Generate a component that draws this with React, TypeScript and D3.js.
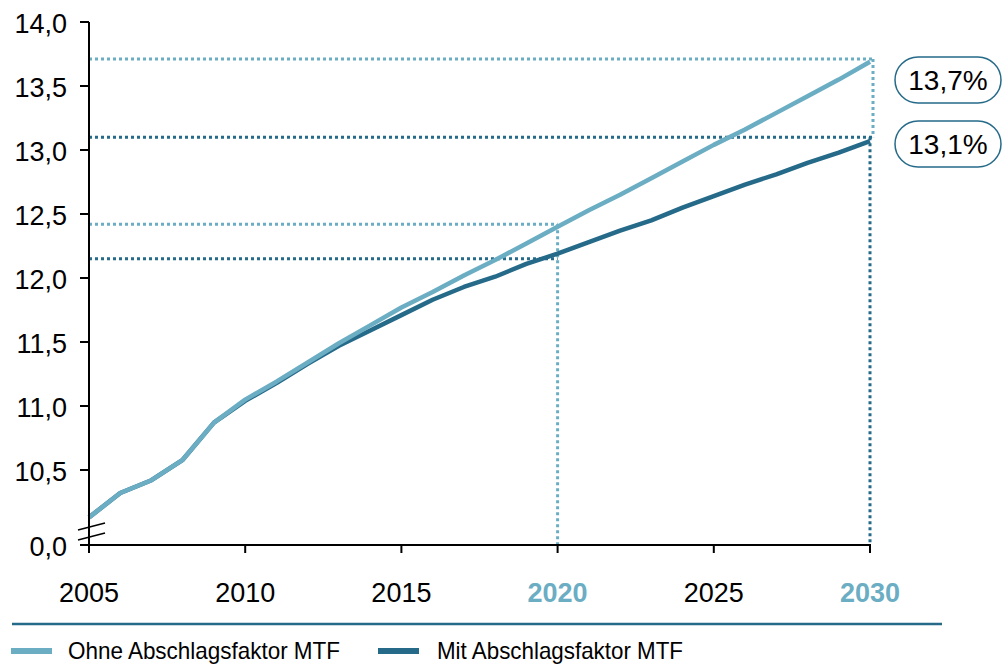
import React from 'react';
import * as d3 from 'd3';

const years = d3.range(2005, 2031);
const ohne = [10.13, 10.32, 10.42, 10.58, 10.87, 11.05, 11.19, 11.34, 11.49, 11.63, 11.77, 11.89, 12.02, 12.14, 12.27, 12.4, 12.53, 12.65, 12.78, 12.91, 13.04, 13.16, 13.29, 13.42, 13.55, 13.69];
const mit = [10.13, 10.32, 10.42, 10.58, 10.87, 11.04, 11.18, 11.33, 11.47, 11.59, 11.71, 11.83, 11.93, 12.01, 12.11, 12.19, 12.28, 12.37, 12.45, 12.55, 12.64, 12.73, 12.81, 12.9, 12.98, 13.07];
const yTicks = [10.5, 11, 11.5, 12, 12.5, 13, 13.5, 14];
const xTicks = [2005, 2010, 2015, 2020, 2025, 2030];
const highlightYears = [2020, 2030];
const refOhne = [12.42, 13.71];
const refMit = [12.15, 13.1];
const badges = ['13,7%', '13,1%'];
const legendLabels = ['Ohne Abschlagsfaktor MTF', 'Mit Abschlagsfaktor MTF'];

const LIGHT = '#6badc3';
const DARK = '#256a89';
const FONT = 'Liberation Sans, Arial, sans-serif';

export default function App() {
  const width = 1003;
  const height = 664;
  const x = d3.scaleLinear().domain([2005, 2030]).range([89, 870]);
  const y = d3.scaleLinear().domain([10, 14]).range([534, 22]);
  const baseY = 545;
  const fmt = (v: number) => d3.format('.1f')(v).replace('.', ',');

  const line = d3
    .line<number>()
    .x((_, i) => x(years[i]))
    .y((d) => y(d));

  const badgeY = [80, 144];
  const legendX = [11, 378];
  const legendW = [272, 246];

  return (
    <svg width={width} height={height} style={{ position: 'absolute', left: 0, top: 0 }}>
      <rect width={width} height={height} fill='#fff' />

      {/* reference dotted lines */}
      <g fill='none' strokeWidth={3} strokeDasharray='3 3'>
        <line x1={x(2005)} x2={x(2020)} y1={y(refOhne[0])} y2={y(refOhne[0])} stroke={LIGHT} />
        <line x1={x(2005)} x2={x(2020)} y1={y(refMit[0])} y2={y(refMit[0])} stroke={DARK} />
        <line x1={x(2020)} x2={x(2020)} y1={y(refOhne[0])} y2={baseY} stroke={LIGHT} />
        <line x1={x(2005)} x2={x(2030) + 4} y1={y(refOhne[1])} y2={y(refOhne[1])} stroke={LIGHT} />
        <line x1={x(2005)} x2={x(2030) + 4} y1={y(refMit[1])} y2={y(refMit[1])} stroke={DARK} />
        <line x1={x(2030) + 3} x2={x(2030) + 3} y1={y(refOhne[1])} y2={y(refMit[1])} stroke={LIGHT} />
        <line x1={x(2030)} x2={x(2030)} y1={y(refMit[1])} y2={baseY} stroke={DARK} />
      </g>

      {/* series */}
      <path d={line(mit) ?? ''} fill='none' stroke={DARK} strokeWidth={4.5} strokeLinejoin='round' />
      <path d={line(ohne) ?? ''} fill='none' stroke={LIGHT} strokeWidth={4.5} strokeLinejoin='round' />

      {/* y axis */}
      <g fontFamily={FONT} fontSize={27} fill='#000'>
        <line x1={89} x2={89} y1={y(14)} y2={baseY + 8} stroke='#000' strokeWidth={2} />
        {yTicks.map((t) => (
          <g key={t}>
            <line x1={80} x2={89} y1={y(t)} y2={y(t)} stroke='#000' strokeWidth={2} />
            <text x={67} y={y(t)} dy='0.4em' textAnchor='end'>
              {fmt(t)}
            </text>
          </g>
        ))}
        <line x1={80} x2={89} y1={baseY} y2={baseY} stroke='#000' strokeWidth={2} />
        <text x={67} y={baseY} dy='0.4em' textAnchor='end'>
          {fmt(0)}
        </text>
        {/* axis break */}
        <line x1={78} x2={105} y1={530} y2={523} stroke='#000' strokeWidth={1.5} />
        <line x1={78} x2={105} y1={540} y2={533} stroke='#000' strokeWidth={1.5} />
      </g>

      {/* x axis */}
      <g fontFamily={FONT} fontSize={27}>
        <line x1={89} x2={x(2030) + 1} y1={baseY} y2={baseY} stroke='#000' strokeWidth={2} />
        {xTicks.map((t) => {
          const hi = highlightYears.includes(t);
          return (
            <g key={t}>
              <line x1={x(t)} x2={x(t)} y1={baseY} y2={baseY + 8} stroke='#000' strokeWidth={2} />
              <text
                x={x(t)}
                y={602}
                textAnchor='middle'
                fill={hi ? LIGHT : '#000'}
                fontWeight={hi ? 'bold' : 'normal'}
              >
                {t}
              </text>
            </g>
          );
        })}
      </g>

      {/* end-value badges */}
      {badges.map((b, i) => (
        <g key={b} fontFamily={FONT} fontSize={28}>
          <rect x={895} y={badgeY[i] - 23} width={106} height={46} rx={23} fill='#fff' stroke={DARK} strokeWidth={1.5} />
          <text x={948} y={badgeY[i]} dy='0.36em' textAnchor='middle' fill='#000'>
            {b}
          </text>
        </g>
      ))}

      {/* legend */}
      <line x1={12} x2={942} y1={624} y2={624} stroke={DARK} strokeWidth={2.5} />
      {legendLabels.map((l, i) => (
        <g key={l}>
          <rect x={legendX[i]} y={648} width={41} height={6} fill={i === 0 ? LIGHT : DARK} />
          <text
            x={i === 0 ? 68 : 437}
            y={659}
            fontFamily={FONT}
            fontSize={24}
            textLength={legendW[i]}
            lengthAdjust='spacingAndGlyphs'
            fill='#000'
          >
            {l}
          </text>
        </g>
      ))}
    </svg>
  );
}
